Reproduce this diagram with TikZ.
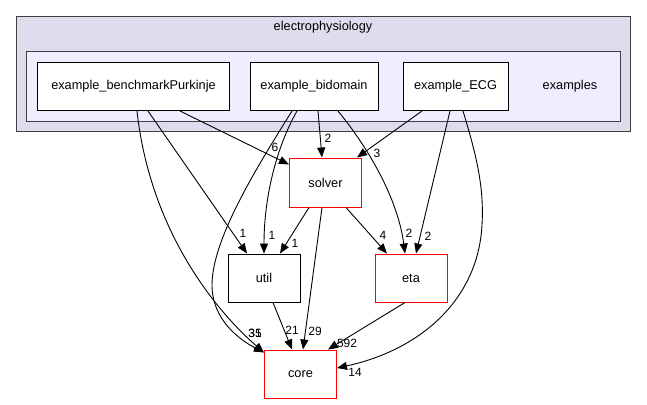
\documentclass[tikz,border=0pt]{standalone}
\usepackage{fontspec}
\setmainfont{Liberation Sans}
\usetikzlibrary{arrows.meta,calc}
\definecolor{clout}{HTML}{DDDDEE}
\definecolor{clin}{HTML}{EEEEFF}
\definecolor{clborder}{HTML}{404040}
\begin{document}
\begin{tikzpicture}[x=1bp,y=-1bp,
  font=\fontsize{12.8}{15}\selectfont,
  dirbox/.style={draw=black, fill=white, line width=1bp, inner sep=0pt, minimum height=48bp},
  redbox/.style={draw=red, fill=white, line width=1bp, inner sep=0pt, minimum width=72bp, minimum height=48bp},
  blackbox/.style={draw=black, fill=white, line width=1bp, inner sep=0pt, minimum width=72bp, minimum height=48bp},
  dep/.style={-{Triangle[length=10bp,width=8bp]}, line width=0.9bp, black},
  lab/.style={inner sep=0pt, font=\fontsize{12}{14}\selectfont},
  cluster/.style={draw=clborder, line width=1bp}]
\useasboundingbox (0,0) rectangle (647,404);
\fill[white] (0,0) rectangle (647,404);
% clusters
\draw[cluster, fill=clout] (16,16) rectangle (630,131);
\node (eplabel) at (323,27) {electrophysiology};
\draw[cluster, fill=clin] (26,51) rectangle (620,121);
\node (exlabel) at (570,86) {examples};
% nodes
\node[dirbox, minimum width=191bp] (bp) at (133.5,86.5) {example\_benchmarkPurkinje};
\node[dirbox, minimum width=128bp] (bd) at (314,86.5) {example\_bidomain};
\node[dirbox, minimum width=105bp] (ecg) at (455.5,86.5) {example\_ECG};
\node[redbox, minimum height=49bp] (solver) at (325.5,182.5) {solver};
\node[blackbox] (util) at (264,278) {util};
\node[redbox] (eta) at (411,278) {eta};
\node[redbox] (core) at (300.5,374) {core};
% edges from example_benchmarkPurkinje
\draw[dep] ($(bp.south)+(46.5,0)$) -- ($(solver.north west)+(0,7)$);
\draw[dep] ($(bp.south)+(14.5,0)$) -- ($(util.north)+(-17,0)$);
\draw[dep] ($(bp.south)+(3.5,0)$) .. controls (150,230) and (215,310) .. ($(core.north west)+(0,3)$);
% edges from example_bidomain
\draw[dep] ($(bd.south)+(4,0)$) -- ($(solver.north)+(-3.5,0)$);
\draw[dep] ($(bd.south)+(-17,0)$) .. controls (275,150) and (264,200) .. (util.north);
\draw[dep] ($(bd.south)+(-22,0)$) .. controls (255,170) and (212,240) .. (212,285) .. controls (212,320) and (240,340) .. ($(core.north west)+(0,3)$);
\draw[dep] ($(bd.south)+(24,0)$) .. controls (370,150) and (398,200) .. ($(eta.north)+(-6,0)$);
% edges from example_ECG
\draw[dep] ($(ecg.south)+(-33.5,0)$) -- ($(solver.north)+(31.5,0)$);
\draw[dep] ($(ecg.south)+(-5.5,0)$) -- ($(eta.north)+(5,0)$);
\draw[dep] ($(ecg.south)+(7.5,0)$) .. controls (478,160) and (484,190) .. (482,225) .. controls (478,300) and (420,350) .. ($(core.east)+(0,-6)$);
% edges from solver
\draw[dep] ($(solver.south)+(-16.5,0)$) -- ($(util.north)+(16,0)$);
\draw[dep] ($(solver.south)+(-3.5,0)$) -- ($(core.north)+(2.5,0)$);
\draw[dep] ($(solver.south)+(20.5,0)$) -- ($(eta.north)+(-24,0)$);
% util, eta
\draw[dep] ($(util.south)+(9,0)$) -- ($(core.north)+(-8.5,0)$);
\draw[dep] ($(eta.south)+(-6,0)$) -- ($(core.north)+(27.5,0)$);
% labels
\node[lab] (l1) at (275,147) {6};
\node[lab] (l2) at (328,138) {2};
\node[lab] (l3) at (377,153) {3};
\node[lab] (l4) at (243,233) {1};
\node[lab] (l5) at (272,235) {1};
\node[lab] (l6) at (295,243) {1};
\node[lab] (l7) at (383,235) {4};
\node[lab] (l8) at (409,233) {2};
\node[lab] (l9) at (428,236) {2};
\node[lab] (l10) at (255,333) {31};
\node[lab] (l11) at (255,333) {35};
\node[lab] (l12) at (292,330) {21};
\node[lab] (l13) at (315,331) {29};
\node[lab] (l14) at (347,343) {592};
\node[lab] (l15) at (355,372) {14};
\end{tikzpicture}
\end{document}
